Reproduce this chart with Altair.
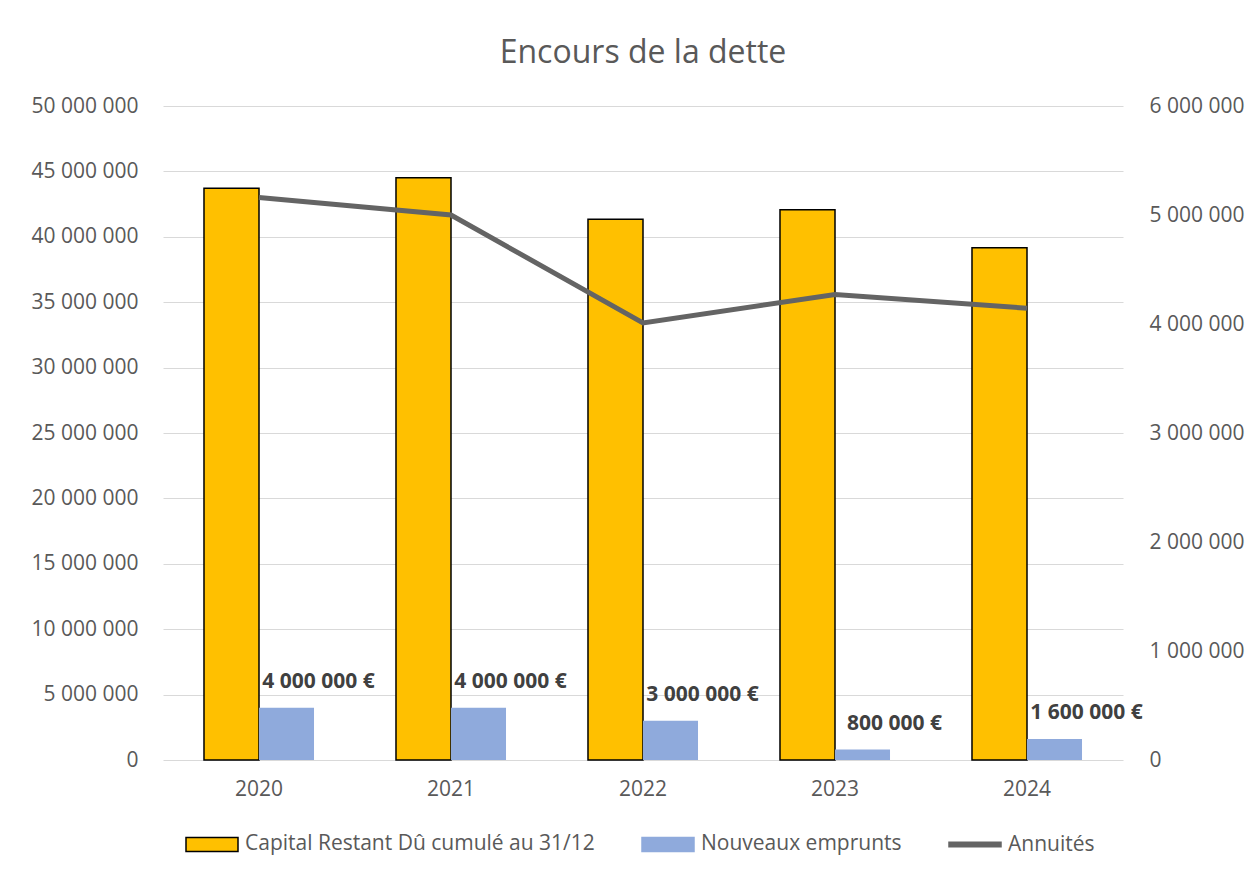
import altair as alt
import pandas as pd

# ---- data ----
years = ["2020", "2021", "2022", "2023", "2024"]
capital = [43_710_000, 44_520_000, 41_340_000, 42_070_000, 39_170_000]
nouveaux = [4_000_000, 4_000_000, 3_000_000, 800_000, 1_600_000]
annuites = [5_160_000, 5_000_000, 4_010_000, 4_270_000, 4_145_000]
series = ["Capital Restant Dû cumulé au 31/12", "Nouveaux emprunts", "Annuités"]
fill_colors = ["#FFC000", "#8FAADC", "#646464"]
stroke_colors = ["#000000", "#8FAADC", "#646464"]
left_ticks = [0, 5_000_000, 10_000_000, 15_000_000, 20_000_000, 25_000_000,
              30_000_000, 35_000_000, 40_000_000, 45_000_000, 50_000_000]
right_ticks = [0, 1_000_000, 2_000_000, 3_000_000, 4_000_000, 5_000_000, 6_000_000]


def fmt_eur(v):
    return f"{v:,}".replace(",", " ") + " €"


bars_df = pd.DataFrame({
    "annee": years * 2,
    "serie": [series[0]] * len(years) + [series[1]] * len(years),
    "valeur": capital + nouveaux,
})
labels_df = pd.DataFrame({
    "annee": years,
    "serie": [series[1]] * len(years),
    "valeur": nouveaux,
    "label": [fmt_eur(v) for v in nouveaux],
})
line_df = pd.DataFrame({
    "annee": years,
    "serie": [series[2]] * len(years),
    "valeur": annuites,
})

FONT = "Open Sans"
GREY = "#595959"
label_expr = "replace(format(datum.value, ','), /,/g, ' ')"

color_scale = alt.Scale(domain=series, range=fill_colors)
stroke_scale = alt.Scale(domain=series, range=stroke_colors)
shape_scale = alt.Scale(domain=series, range=[
    "M-1,-0.27H1V0.27H-1Z",
    "M-1,-0.27H1V0.27H-1Z",
    "M-1,-0.09H1V0.09H-1Z",
])

legend = alt.Legend(
    title=None, orient="none", direction="horizontal",
    legendX=22, legendY=711,
    symbolSize=2704, symbolStrokeWidth=1.5, symbolOpacity=1,
    labelFont=FONT, labelFontSize=21, labelColor=GREY,
    labelOffset=6, columnPadding=44, labelLimit=0,
)

x_axis = alt.Axis(title=None, labelAngle=0, domain=False, ticks=False,
                  labelPadding=18, labelFont=FONT, labelFontSize=21,
                  labelColor=GREY)
x_scale = alt.Scale(paddingInner=0.427, paddingOuter=0.2135)
xoff_scale = alt.Scale(domain=series[:2], paddingInner=0, paddingOuter=0)

left_axis = alt.Axis(title=None, values=left_ticks, labelExpr=label_expr,
                     grid=True, gridColor="#D9D9D9", gridWidth=1.2,
                     domain=False, ticks=False, labelPadding=25,
                     labelFont=FONT, labelFontSize=21, labelColor=GREY)
left_scale = alt.Scale(domain=[0, 50_000_000], nice=False)

right_axis = alt.Axis(title=None, orient="right", values=right_ticks,
                      labelExpr=label_expr, grid=False, domain=False,
                      ticks=False, labelPadding=26, labelFont=FONT,
                      labelFontSize=21, labelColor=GREY)
right_scale = alt.Scale(domain=[0, 6_000_000], nice=False)

bars = alt.Chart(bars_df).mark_bar().encode(
    x=alt.X("annee:N", sort=years, scale=x_scale, axis=x_axis),
    xOffset=alt.XOffset("serie:N", sort=series[:2], scale=xoff_scale),
    y=alt.Y("valeur:Q", scale=left_scale, axis=left_axis),
    color=alt.Color("serie:N", scale=color_scale, legend=legend),
    stroke=alt.Stroke("serie:N", scale=stroke_scale, legend=legend),
    strokeWidth=alt.condition(alt.datum.serie == series[0], alt.value(1.5), alt.value(0)),
)

labels = alt.Chart(labels_df).mark_text(
    dx=32, dy=-26, font=FONT, fontSize=21, fontWeight="bold",
    color="#404040", align="center", baseline="middle",
).encode(
    x=alt.X("annee:N", sort=years, scale=x_scale, axis=x_axis),
    xOffset=alt.XOffset("serie:N", sort=series[:2], scale=xoff_scale),
    y=alt.Y("valeur:Q", scale=left_scale, axis=left_axis),
    text="label:N",
)

line = alt.Chart(line_df).mark_line(strokeWidth=5).encode(
    x=alt.X("annee:N", sort=years, scale=x_scale, axis=x_axis),
    y=alt.Y("valeur:Q", scale=right_scale, axis=right_axis),
    stroke=alt.Stroke("serie:N", scale=stroke_scale, legend=None),
)

points = alt.Chart(line_df).mark_point(filled=True, opacity=0).encode(
    x=alt.X("annee:N", sort=years, scale=x_scale, axis=x_axis),
    y=alt.Y("valeur:Q", scale=right_scale, axis=right_axis),
    color=alt.Color("serie:N", scale=color_scale, legend=legend),
    shape=alt.Shape("serie:N", scale=shape_scale, legend=legend),
)

left = alt.layer(bars, labels)
right = alt.layer(line, points)

chart = alt.layer(left, right).resolve_scale(y="independent").properties(
    width=960,
    height=654,
    padding={"left": 23, "top": 29, "right": 5, "bottom": 5},
    title=alt.TitleParams("Encours de la dette", fontSize=32, font=FONT,
                          fontWeight="normal", color=GREY, offset=25,
                          anchor="middle"),
).configure_view(stroke=None)

chart.save("out.html", embed_options={"renderer": "svg", "actions": False})
